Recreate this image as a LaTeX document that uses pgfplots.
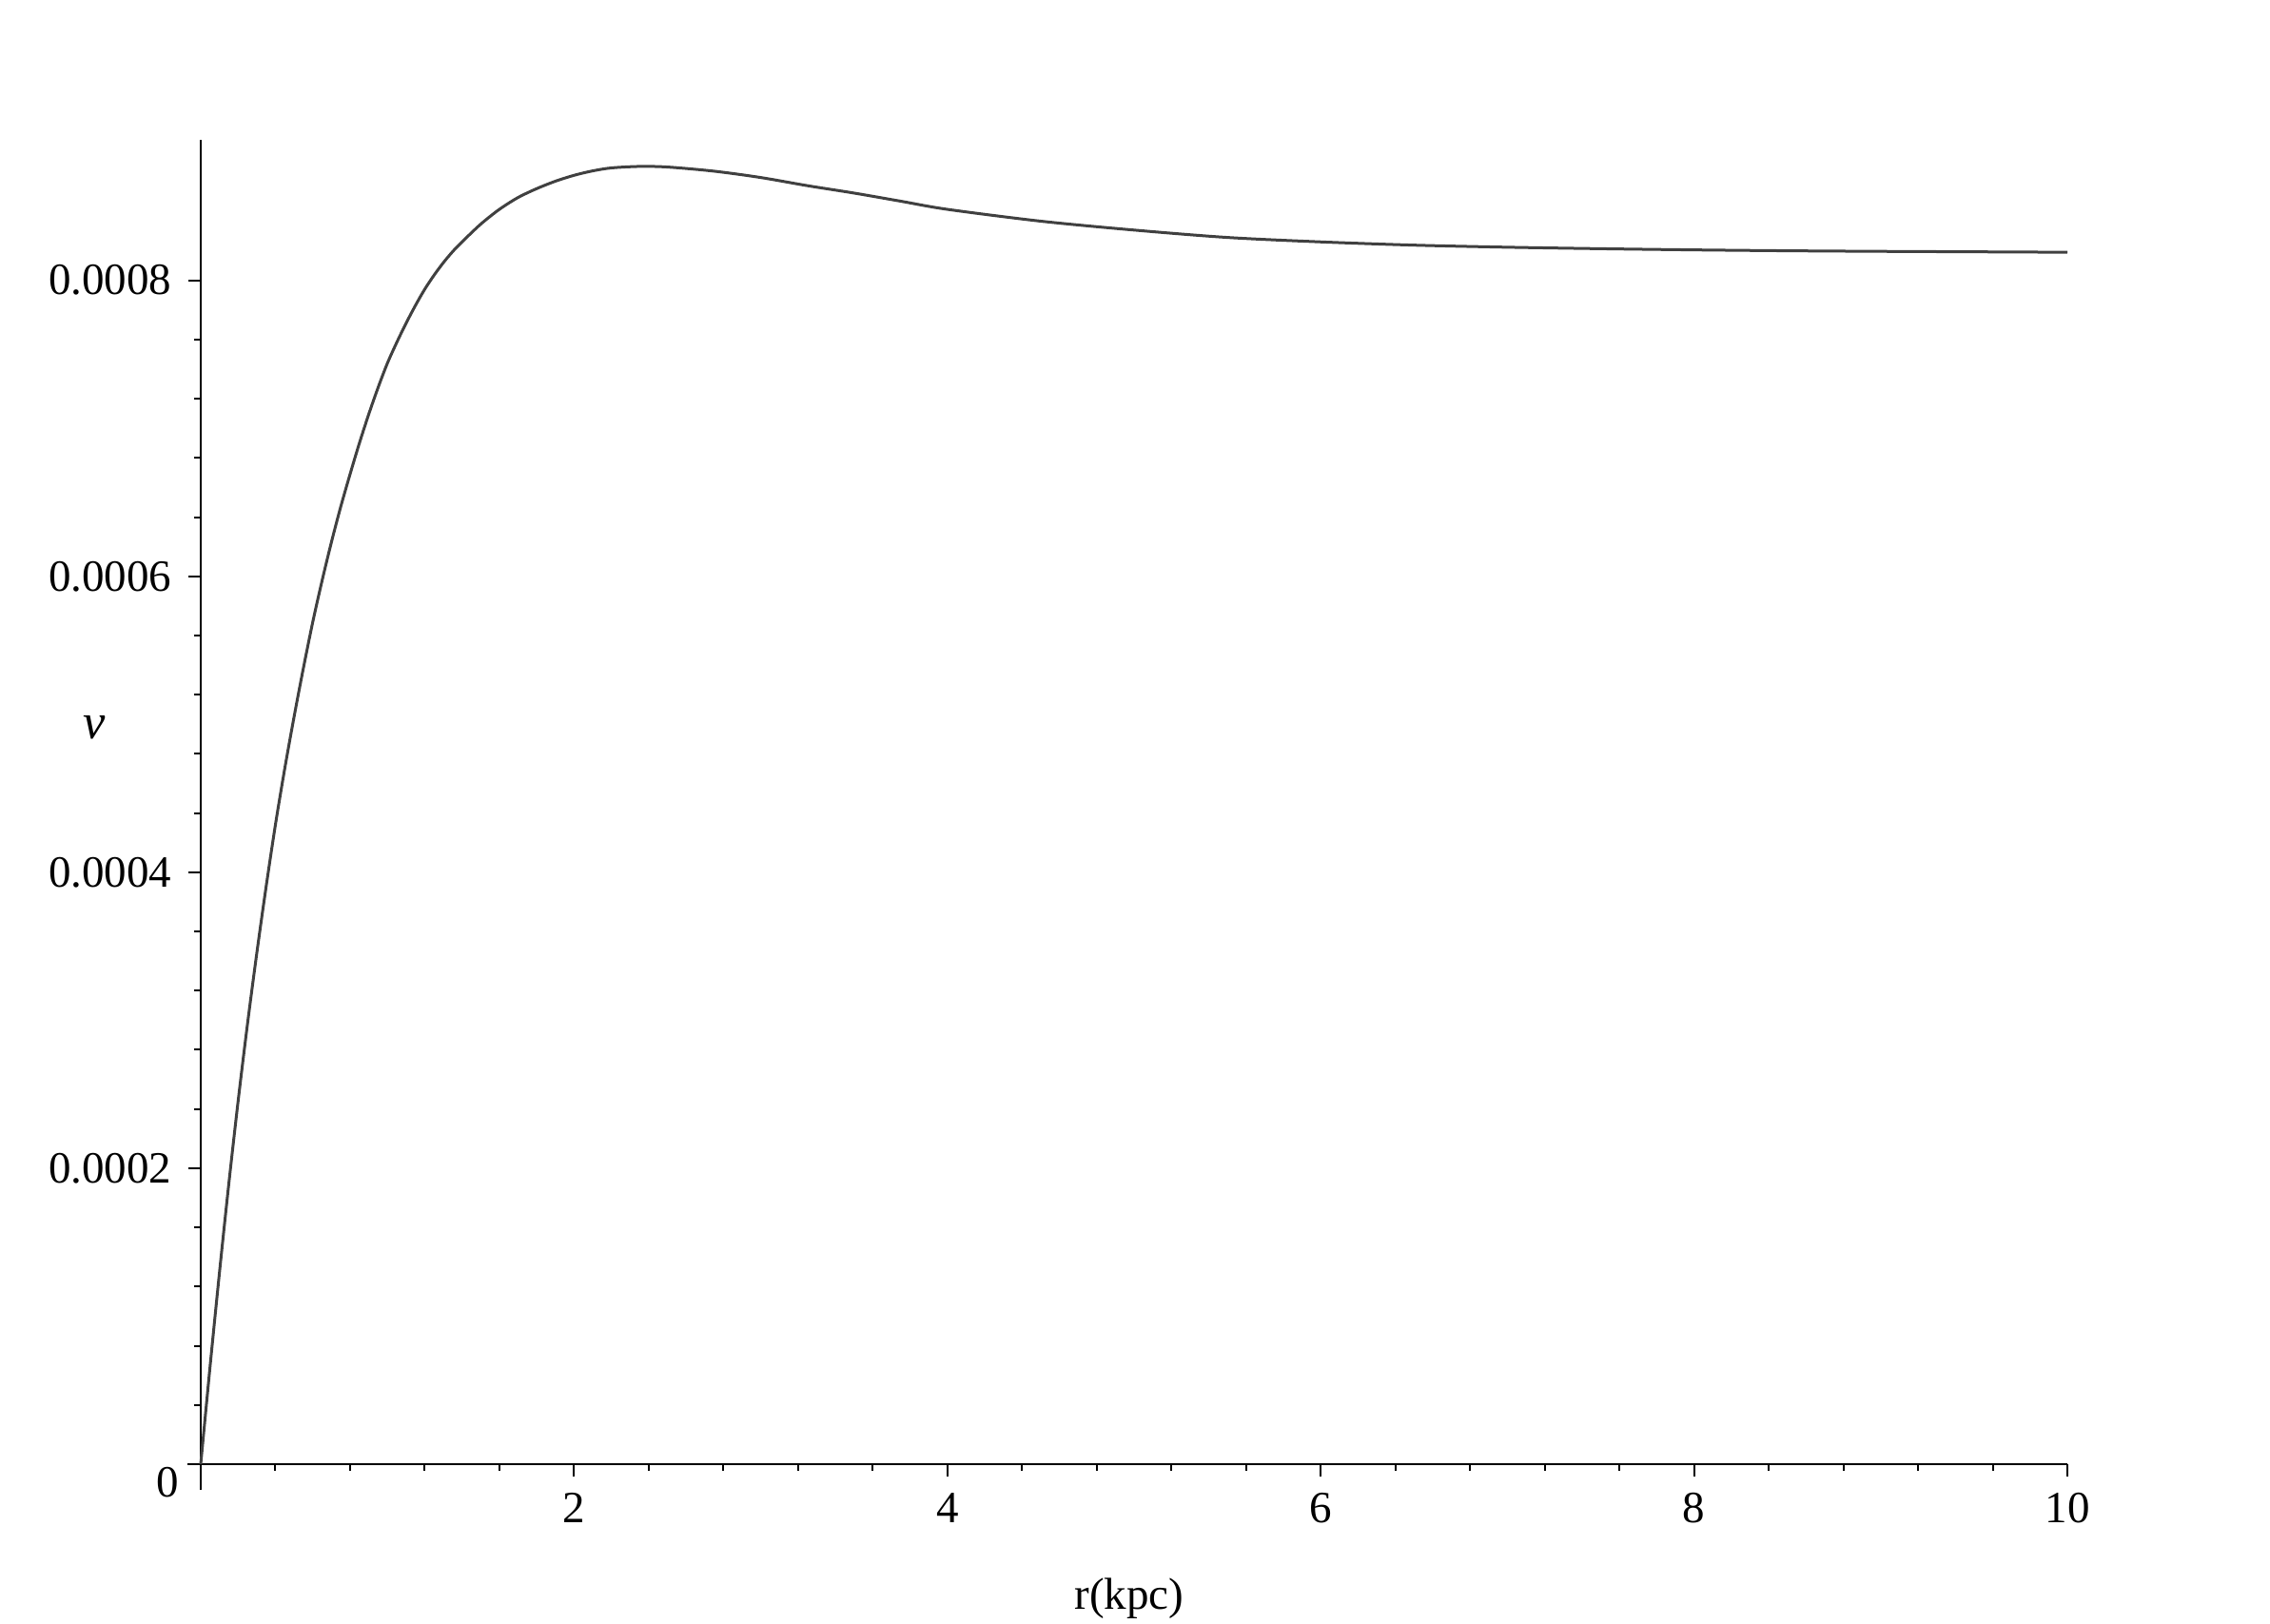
\documentclass[border=0pt]{standalone}
\usepackage{fontspec}
\setmainfont{Liberation Serif}
\usepackage{pgfplots}
\pgfplotsset{compat=1.18}
\begin{document}
\begin{tikzpicture}
\begin{axis}[
  at={(0pt,0pt)}, anchor=south west,
  scale only axis, width=392.4pt, height=278.4pt,
  xmin=0, xmax=10, ymin=0, ymax=0.000895,
  axis lines=left,
  axis line style={-, line width=0.55pt, black},
  x axis line style={shorten <=-2.8pt},
  y axis line style={shorten <=-5.4pt},
  tick align=outside,
  scaled y ticks=false, scaled x ticks=false,
  xtick={0,2,4,6,8,10}, xticklabels={,2,4,6,8,10},
  ytick={0,0.0002,0.0004,0.0006,0.0008},
  yticklabels={,0.0002,0.0004,0.0006,0.0008},
  minor x tick num=4, minor y tick num=4,
  major tick length=2.6pt, minor tick length=1.4pt,
  tick style={black, line width=0.4pt},
  every tick label/.append style={font=\fontsize{9.4}{11}\selectfont},
  xlabel={r(kpc)}, ylabel={\textit{v}},
  every axis x label/.style={at={(axis description cs:0.4975,0)}, anchor=center, yshift=-28.2pt, inner sep=0pt, font=\fontsize{9.4}{11}\selectfont},
  every axis y label/.style={at={(axis description cs:0,0.556)}, anchor=center, xshift=-22.4pt, inner sep=0pt, font=\fontsize{10.5}{12}\selectfont},
  clip=false,
]
\addplot[smooth, line width=0.6pt, color=black!75] coordinates {
(0,0)
(0.05,0.0000660)
(0.10,0.000129)
(0.15,0.000189)
(0.20,0.000245)
(0.25,0.000297)
(0.30,0.000345)
(0.35,0.000390)
(0.40,0.000432)
(0.45,0.000470)
(0.50,0.000505)
(0.55,0.000538)
(0.60,0.000569)
(0.65,0.000597)
(0.70,0.000623)
(0.75,0.000647)
(0.80,0.000669)
(0.85,0.000690)
(0.90,0.0007095)
(0.95,0.0007275)
(1.00,0.000744)
(1.05,0.000758)
(1.10,0.000771)
(1.15,0.0007830)
(1.20,0.000794)
(1.25,0.0008035)
(1.30,0.000812)
(1.35,0.0008195)
(1.40,0.000826)
(1.50,0.000838)
(1.60,0.000848)
(1.70,0.000856)
(1.80,0.000862)
(1.90,0.000867)
(2.00,0.000871)
(2.10,0.000874)
(2.20,0.000876)
(2.35,0.000877)
(2.50,0.0008766)
(2.75,0.0008738)
(3.00,0.0008695)
(3.25,0.000864)
(3.50,0.000859)
(3.75,0.0008535)
(4.00,0.000848)
(4.50,0.000840)
(5.00,0.000834)
(5.50,0.000829)
(6.00,0.000826)
(6.50,0.0008238)
(7.00,0.0008224)
(7.50,0.0008214)
(8.00,0.0008206)
(8.50,0.0008200)
(9.00,0.0008196)
(9.50,0.0008193)
(10.00,0.000819)
};
\end{axis}
\node[anchor=center, font=\fontsize{9.4}{11}\selectfont, inner sep=0pt] at (-6.95pt,-3.8pt) {0};
\path (-42.2pt,-33.6pt) rectangle (435pt,307.8pt);
\end{tikzpicture}
\end{document}
